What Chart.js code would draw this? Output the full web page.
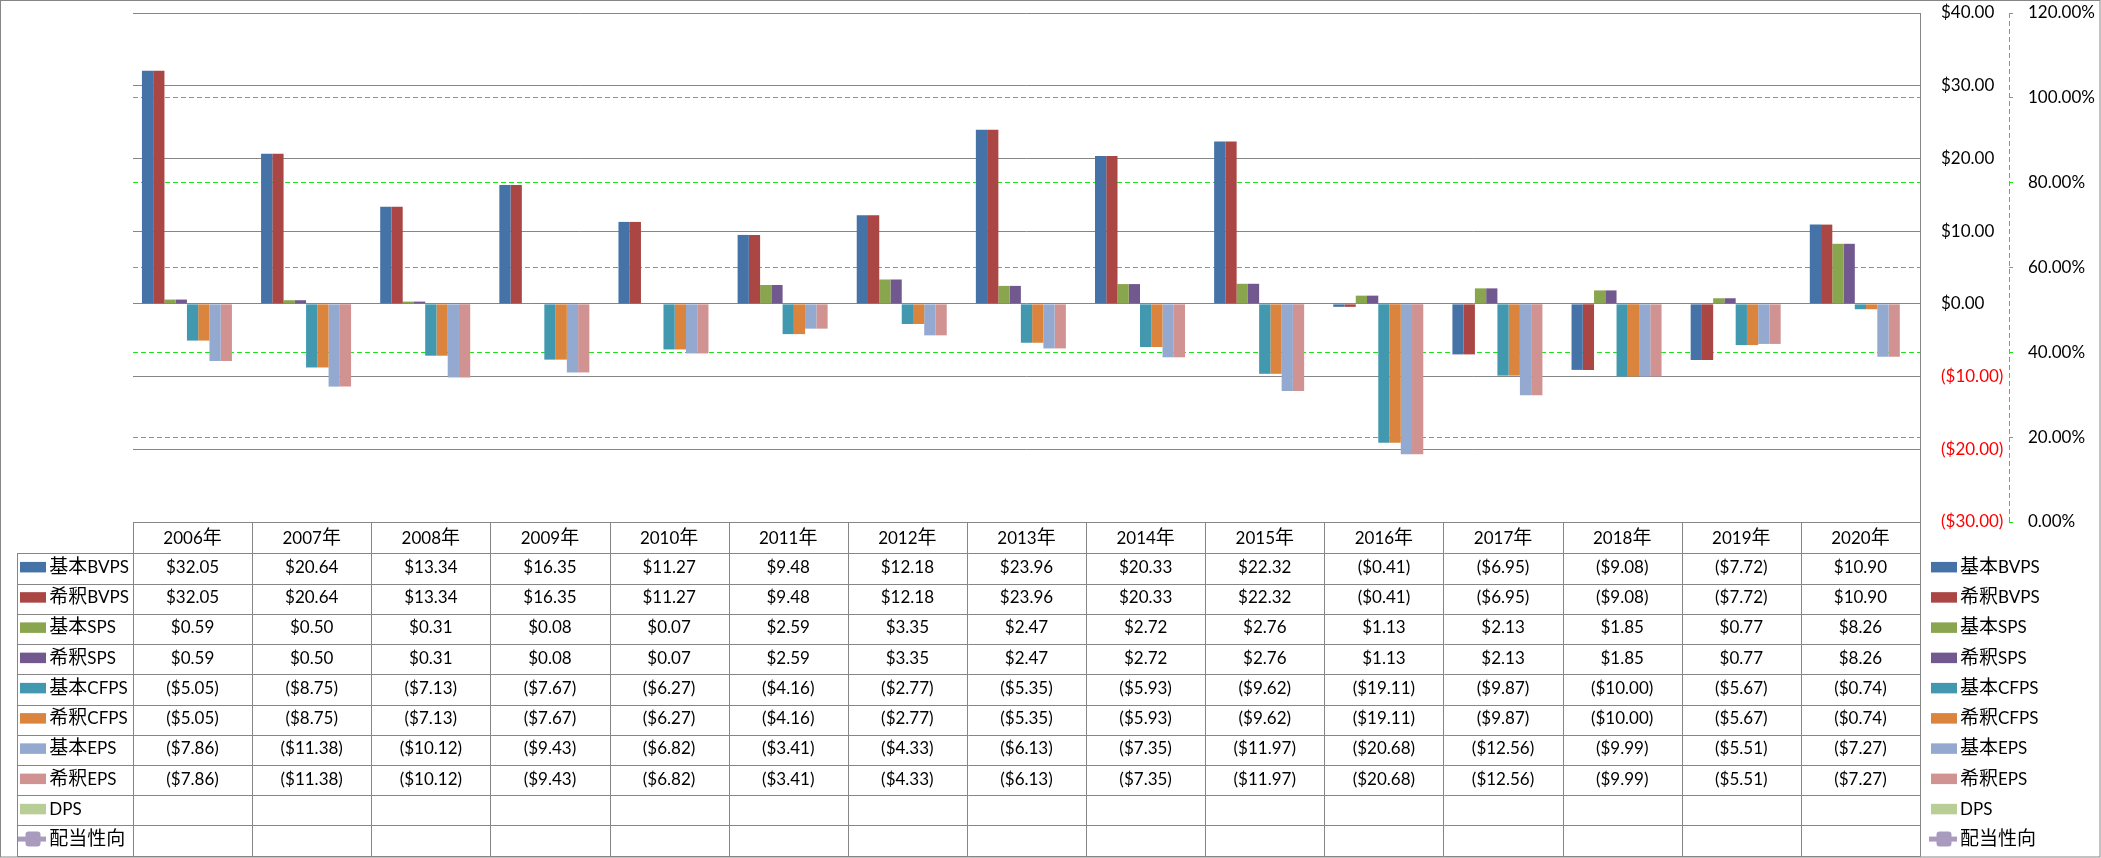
<!DOCTYPE html>
<html>
<head>
<meta charset="utf-8">
<script src="https://cdn.jsdelivr.net/npm/chart.js@4"></script>
<style>
html,body{margin:0;padding:0;background:#fff;overflow:hidden}
canvas{display:block}
</style>
</head>
<body>
<canvas id="c" width="2101" height="858" style="width:2101px;height:858px"></canvas>
<script>
// ---------- data ----------
const categories = ['2006年','2007年','2008年','2009年','2010年','2011年','2012年','2013年','2014年','2015年','2016年','2017年','2018年','2019年','2020年'];
const seriesNames = ['基本BVPS','希釈BVPS','基本SPS','希釈SPS','基本CFPS','希釈CFPS','基本EPS','希釈EPS','DPS','配当性向'];
const basicBVPS   = [32.05, 20.64, 13.34, 16.35, 11.27, 9.48, 12.18, 23.96, 20.33, 22.32, -0.41, -6.95, -9.08, -7.72, 10.90];
const dilutedBVPS = [32.05, 20.64, 13.34, 16.35, 11.27, 9.48, 12.18, 23.96, 20.33, 22.32, -0.41, -6.95, -9.08, -7.72, 10.90];
const basicSPS    = [0.59, 0.50, 0.31, 0.08, 0.07, 2.59, 3.35, 2.47, 2.72, 2.76, 1.13, 2.13, 1.85, 0.77, 8.26];
const dilutedSPS  = [0.59, 0.50, 0.31, 0.08, 0.07, 2.59, 3.35, 2.47, 2.72, 2.76, 1.13, 2.13, 1.85, 0.77, 8.26];
const basicCFPS   = [-5.05, -8.75, -7.13, -7.67, -6.27, -4.16, -2.77, -5.35, -5.93, -9.62, -19.11, -9.87, -10.00, -5.67, -0.74];
const dilutedCFPS = [-5.05, -8.75, -7.13, -7.67, -6.27, -4.16, -2.77, -5.35, -5.93, -9.62, -19.11, -9.87, -10.00, -5.67, -0.74];
const basicEPS    = [-7.86, -11.38, -10.12, -9.43, -6.82, -3.41, -4.33, -6.13, -7.35, -11.97, -20.68, -12.56, -9.99, -5.51, -7.27];
const dilutedEPS  = [-7.86, -11.38, -10.12, -9.43, -6.82, -3.41, -4.33, -6.13, -7.35, -11.97, -20.68, -12.56, -9.99, -5.51, -7.27];
const dps         = [null, null, null, null, null, null, null, null, null, null, null, null, null, null, null];
const payoutRatio = [null, null, null, null, null, null, null, null, null, null, null, null, null, null, null];
const primaryTicks = { min: -30, max: 40, step: 10 };
const secondaryTicks = { min: 0, max: 1.2, step: 0.2 };

// ---------- styles ----------
const colors = ['#4572A7','#AA4643','#89A54E','#71588F','#4198AF','#DB843D','#93A9CF','#D19392','#B9CD96','#A99BBD'];
const GRID = '#868686';
const GREEN = '#19E619';
const LATIN = '17px Lato, "Noto Sans CJK JP", sans-serif';
const CJK = '19px "Noto Sans CJK JP", sans-serif';

function money(v) {
  if (v === null || v === undefined) return '';
  const s = '$' + Math.abs(v).toFixed(2);
  return v < 0 ? '(' + s + ')' : s;
}

function runs(text) {
  const out = []; let cur = '', curC = null;
  for (const ch of text) {
    const c = /[\u3000-\u9fff\uff00-\uffef]/.test(ch);
    if (curC === null || c === curC) { cur += ch; curC = c; }
    else { out.push([cur, curC]); cur = ch; curC = c; }
  }
  if (cur) out.push([cur, curC]);
  return out;
}
function drawMixed(ctx, text, x, baseline, align) {
  const rs = runs(text);
  const widths = []; let total = 0;
  for (const [t, c] of rs) { ctx.font = c ? CJK : LATIN; const w = ctx.measureText(t).width; widths.push(w); total += w; }
  let cx = align === 'center' ? x - total / 2 : x;
  ctx.textAlign = 'left'; ctx.textBaseline = 'alphabetic';
  rs.forEach(([t, c], i) => { ctx.font = c ? CJK : LATIN; ctx.fillText(t, cx, baseline); cx += widths[i]; });
}

const seriesData = [basicBVPS, dilutedBVPS, basicSPS, dilutedSPS, basicCFPS, dilutedCFPS, basicEPS, dilutedEPS, dps];
const datasets = seriesData.map((d, i) => ({
  type: 'bar', label: seriesNames[i], data: d, backgroundColor: colors[i], borderWidth: 0, yAxisID: 'y', order: 1
}));
datasets.push({
  type: 'line', label: seriesNames[9], data: payoutRatio, borderColor: colors[9], backgroundColor: colors[9],
  borderWidth: 3, pointStyle: 'rect', pointRadius: 6, yAxisID: 'y1', order: 0
});

const HEAD_TOP = 522, HEAD_BOT = 553.3, ROW_H = 30.24, TABLE_LEFT = 17;

const tablePlugin = {
  id: 'dataTable',
  beforeDraw(chart) {
    const ctx = chart.ctx; ctx.save(); ctx.fillStyle = '#fff'; ctx.fillRect(0, 0, chart.width, chart.height); ctx.restore();
  },
  afterDraw(chart) {
    const ctx = chart.ctx, area = chart.chartArea;
    const n = categories.length;
    const L = area.left, R = area.right, colW = (R - L) / n;
    const nRows = chart.data.datasets.length;
    const bottom = HEAD_BOT + nRows * ROW_H;
    const px = v => Math.round(v) + 0.5;
    ctx.save();
    // dashed secondary axis line
    const y1 = chart.scales.y1;
    ctx.strokeStyle = GREEN; ctx.lineWidth = 1; ctx.setLineDash([5, 3]);
    ctx.beginPath(); ctx.moveTo(px(y1.left), area.top); ctx.lineTo(px(y1.left), area.bottom); ctx.stroke();
    ctx.setLineDash([]);

    ctx.strokeStyle = GRID; ctx.lineWidth = 1;
    ctx.beginPath();
    ctx.moveTo(L, px(HEAD_TOP)); ctx.lineTo(R, px(HEAD_TOP));
    for (let r = 0; r <= nRows; r++) {
      const y = px(HEAD_BOT + r * ROW_H);
      ctx.moveTo(TABLE_LEFT, y); ctx.lineTo(px(R), y);
    }
    for (let i = 0; i <= n; i++) {
      const x = px(L + i * colW);
      ctx.moveTo(x, i === n ? area.top : px(HEAD_TOP)); ctx.lineTo(x, px(bottom));
    }
    ctx.moveTo(px(TABLE_LEFT), px(HEAD_BOT)); ctx.lineTo(px(TABLE_LEFT), px(bottom));
    ctx.stroke();
    // outer border
    ctx.strokeRect(0.5, 0.5, chart.width - 1.5, chart.height - 1.5);

    ctx.fillStyle = '#000';
    // header
    const hc = (HEAD_TOP + HEAD_BOT) / 2;
    for (let i = 0; i < n; i++) drawMixed(ctx, categories[i], L + (i + 0.5) * colW, hc + 6, 'center');
    // rows
    chart.data.datasets.forEach((ds, r) => {
      const yc = HEAD_BOT + (r + 0.5) * ROW_H;
      for (let i = 0; i < n; i++) {
        const t = money(ds.data[i]);
        if (t && ds.type === 'bar') { ctx.fillStyle = '#000'; drawMixed(ctx, t, L + (i + 0.5) * colW, yc + 4.5, 'center'); }
      }
      // legend keys (in table and on the right)
      [[20, 49.3], [1931, 1960]].forEach(([sx, tx]) => {
        if (ds.type === 'line') {
          ctx.strokeStyle = ds.borderColor; ctx.lineWidth = 5;
          ctx.beginPath(); ctx.moveTo(sx - 2, yc - 1.5); ctx.lineTo(sx + 26, yc - 1.5); ctx.stroke();
          ctx.fillStyle = ds.backgroundColor;
          ctx.beginPath(); ctx.roundRect(sx + 5.5, yc - 9, 15, 15, 3); ctx.fill();
        } else {
          ctx.fillStyle = ds.backgroundColor;
          ctx.fillRect(sx, yc - 6.5, 26, 10.5);
        }
        ctx.fillStyle = '#000';
        drawMixed(ctx, ds.label, tx, yc + 4.5, 'left');
      });
    });
    ctx.restore();
  }
};

Chart.defaults.font.family = 'Lato, "Noto Sans CJK JP", sans-serif';
Chart.defaults.font.size = 17;
Chart.defaults.color = '#000';

function fitWidth(w) {
  return s => { s.width = w; s.paddingTop = 0; s.paddingBottom = 0; };
}

const chart = new Chart(document.getElementById('c'), {
  type: 'bar',
  data: { labels: categories, datasets },
  options: {
    responsive: false,
    devicePixelRatio: 1,
    animation: false,
    layout: { padding: { left: 133, top: 13, right: 0, bottom: 858 - 522 } },
    datasets: { bar: { categoryPercentage: 0.85, barPercentage: 1.0 } },
    plugins: { legend: { display: false }, tooltip: { enabled: false } },
    scales: {
      x: { type: 'category', display: false, offset: true },
      y: {
        position: 'right', weight: 0,
        min: primaryTicks.min, max: primaryTicks.max,
        afterFit: fitWidth(89),
        ticks: {
          stepSize: primaryTicks.step, padding: 21,
          callback: v => money(v),
          color: c => (c.tick && c.tick.value < 0) ? '#FF0000' : '#000',
          font: { family: 'Lato, sans-serif', size: 17 }
        },
        grid: { color: GRID, lineWidth: 1, drawTicks: false },
        border: { display: true, color: GRID, width: 1 }
      },
      y1: {
        position: 'right', weight: 1,
        min: secondaryTicks.min, max: secondaryTicks.max,
        afterFit: fitWidth(92),
        ticks: {
          stepSize: secondaryTicks.step, padding: 15,
          callback: v => (v * 100).toFixed(2) + '%',
          color: '#000',
          font: { family: 'Lato, sans-serif', size: 17 }
        },
        grid: {
          color: c => (c.index === 0 || c.index === 6) ? 'rgba(0,0,0,0)' : GREEN,
          tickColor: GREEN, tickLength: 4, drawTicks: true, lineWidth: 1, tickBorderDash: [],
        },
        border: { display: false, color: GREEN, width: 1, dash: [5, 3] }
      }
    }
  },
  plugins: [tablePlugin]
});
if (document.fonts && document.fonts.ready) document.fonts.ready.then(() => chart.update());
</script>
</body>
</html>
